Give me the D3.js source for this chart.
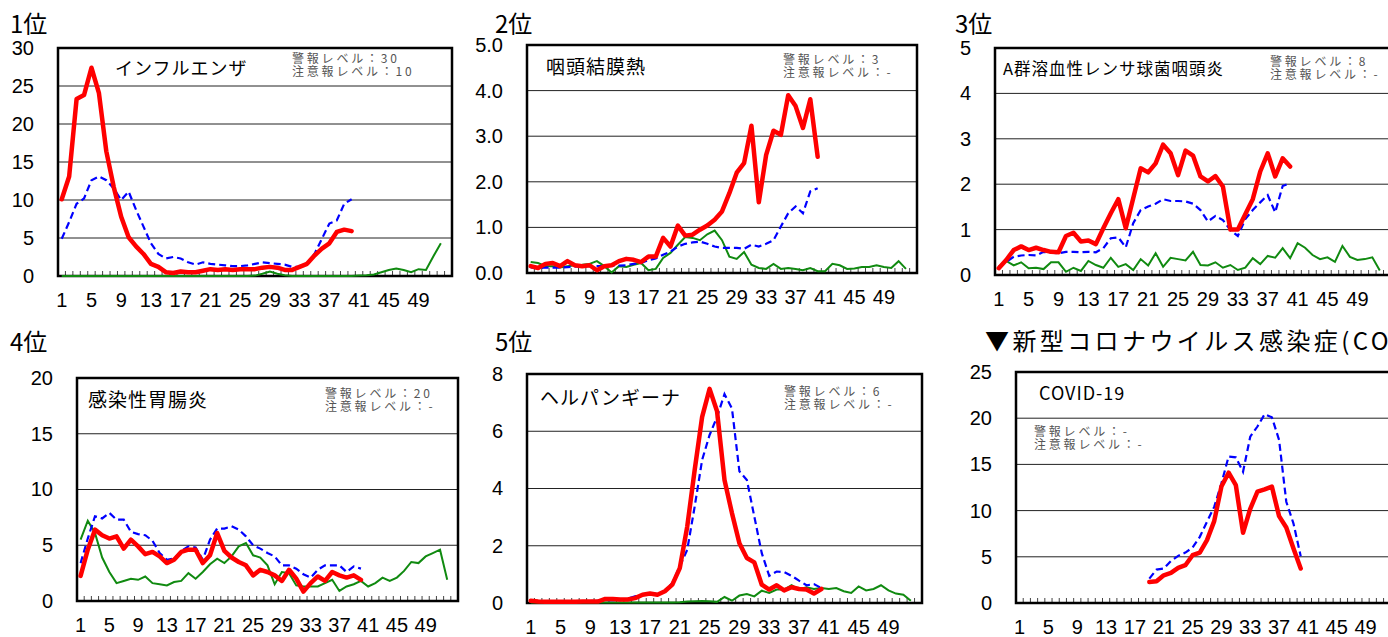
<!DOCTYPE html>
<html>
<head>
<meta charset="utf-8">
<script src="https://cdnjs.cloudflare.com/ajax/libs/d3/7.8.5/d3.min.js"></script>
<style>
  body { margin: 0; background: #fff; }
  svg { display: block; }
</style>
</head>
<body>
<svg width="1388" height="637"></svg>
<script>
// 週 (カテゴリ)
const weeks = [1,2,3,4,5,6,7,8,9,10,11,12,13,14,15,16,17,18,19,20,21,22,23,24,25,26,27,
               28,29,30,31,32,33,34,35,36,37,38,39,40,41,42,43,44,45,46,47,48,49,50,51,52,53];
const weekLabels = [1,5,9,13,17,21,25,29,33,37,41,45,49];

// インフルエンザ
const fluNow = [10.1,13.1,23.3,23.8,27.4,24.1,16.4,11.7,7.8,5.1,
                3.9,2.9,1.6,1.2,0.5,0.4,0.6,0.5,0.5,0.7,
                0.9,0.8,0.9,0.8,0.9,0.9,0.9,1.1,1.2,1.1,
                0.8,0.8,1.2,1.6,2.7,3.6,4.3,5.8,6.1,5.9];
const fluPrev = [4.9,7.1,9.5,10.2,12.6,13.1,12.6,11.5,10.0,11.1,
                 8.7,6.5,4.3,2.9,2.3,2.5,2.3,1.8,1.5,1.8,
                 1.6,1.5,1.4,1.3,1.3,1.4,1.6,1.8,1.7,1.6,
                 1.5,1.2,1.2,1.6,2.9,4.9,6.9,7.3,9.5,10.1];
const fluLast = [0,0,0,0,0,0,0,0,0,0,
                 0,0,0,0,0,0,0,0,0,0,
                 0,0,0,0,0,0,0.05,0.3,0.6,0.3,
                 0.1,0,0,0,0,0,0,0,0,0,
                 0.05,0.1,0.2,0.5,0.8,1.0,0.8,0.5,0.9,0.8,
                 2.6,4.3];

// 咽頭結膜熱
const pcfNow = [0.15,0.11,0.2,0.22,0.15,0.26,0.17,0.15,0.17,0.06,
                0.15,0.17,0.26,0.31,0.29,0.24,0.36,0.36,0.77,0.58,
                1.04,0.82,0.84,0.95,1.04,1.17,1.35,1.75,2.2,2.41,
                3.23,1.55,2.59,3.12,3.03,3.9,3.66,3.18,3.81,2.55];
const pcfPrev = [0.12,0.1,0.12,0.12,0.12,0.13,0.14,0.15,0.15,0.15,
                 0.15,0.16,0.16,0.17,0.2,0.22,0.28,0.32,0.4,0.47,
                 0.58,0.64,0.67,0.69,0.64,0.58,0.55,0.55,0.55,0.53,
                 0.62,0.58,0.64,0.72,1.02,1.31,1.46,1.31,1.79,1.86];
const pcfLast = [0.24,0.22,0.15,0.15,0.12,0.15,0.17,0.18,0.2,0.26,
                 0.15,0.01,0.15,0.13,0.18,0.22,0.06,0.09,0.33,0.44,
                 0.62,0.79,0.77,0.72,0.85,0.93,0.72,0.36,0.31,0.46,
                 0.18,0.11,0.09,0.2,0.09,0.11,0.09,0.06,0.11,0.04,
                 0.04,0.2,0.17,0.09,0.1,0.13,0.13,0.17,0.13,0.11,
                 0.26,0.09];

// A群溶血性レンサ球菌咽頭炎
const gasNow = [0.15,0.33,0.55,0.63,0.55,0.6,0.55,0.51,0.5,0.86,
                0.93,0.74,0.76,0.68,1.03,1.36,1.67,1.03,1.69,2.35,
                2.26,2.46,2.87,2.68,2.2,2.74,2.63,2.17,2.06,2.18,
                1.95,1.0,1.0,1.34,1.67,2.28,2.68,2.17,2.57,2.39];
const gasPrev = [0.18,0.29,0.4,0.43,0.44,0.43,0.51,0.49,0.48,0.51,
                 0.51,0.5,0.51,0.5,0.59,0.81,0.83,0.61,1.14,1.43,
                 1.51,1.57,1.67,1.63,1.63,1.62,1.57,1.43,1.18,1.3,
                 1.21,0.99,0.86,1.23,1.43,1.6,1.76,1.38,1.96,2.02];
const gasLast = [0.18,0.31,0.21,0.28,0.15,0.16,0.13,0.28,0.28,0.07,
                 0.16,0.09,0.31,0.22,0.16,0.38,0.18,0.24,0.11,0.35,
                 0.21,0.48,0.18,0.38,0.35,0.32,0.51,0.22,0.21,0.28,
                 0.16,0.22,0.11,0.16,0.37,0.24,0.42,0.38,0.59,0.37,
                 0.7,0.6,0.44,0.35,0.39,0.29,0.64,0.4,0.33,0.35,
                 0.39,0.1];

// 感染性胃腸炎
const gastroNow = [2.25,4.6,6.4,5.9,5.6,5.8,4.7,5.5,4.9,4.2,
                   4.4,4.0,3.4,3.7,4.4,4.6,4.6,3.4,4.1,6.1,
                   4.5,3.9,3.5,3.2,2.3,2.8,2.6,2.3,1.8,2.8,
                   2.0,0.84,1.6,2.2,1.8,2.6,2.3,2.1,2.3,1.9];
const gastroPrev = [3.4,5.6,7.6,7.4,7.9,7.3,7.3,6.2,6.0,5.9,
                    5.4,4.3,3.7,3.8,4.5,4.9,4.8,3.7,5.5,6.5,
                    6.5,6.7,6.4,5.8,5.0,4.7,4.3,4.0,3.2,3.2,
                    2.9,2.4,2.1,2.8,3.2,3.2,3.2,2.6,3.1,2.9];
const gastroLast = [5.5,7.2,6.1,3.9,2.6,1.6,1.8,2.0,1.9,2.2,
                    1.6,1.5,1.4,1.7,1.8,2.5,2.0,2.6,3.3,3.8,
                    3.4,4.0,4.9,5.2,4.1,3.9,3.2,1.5,2.6,2.5,
                    1.4,1.3,1.3,1.3,1.6,1.9,0.9,1.3,1.5,1.8,
                    1.3,1.6,2.1,1.8,2.1,2.7,3.5,3.4,4.0,4.3,
                    4.6,1.9];

// ヘルパンギーナ
const herpNow = [0.08,0.05,0.04,0.04,0.04,0.04,0.04,0.05,0.05,0.05,
                 0.14,0.14,0.12,0.12,0.17,0.29,0.33,0.29,0.41,0.64,
                 1.22,2.67,4.65,6.5,7.48,6.7,4.3,3.14,2.09,1.57,
                 1.42,0.64,0.47,0.62,0.44,0.55,0.49,0.47,0.33,0.49];
const herpPrev = [0.05,0.05,0.05,0.05,0.05,0.05,0.06,0.07,0.07,0.08,
                  0.1,0.1,0.1,0.15,0.23,0.29,0.35,0.31,0.41,0.7,
                  1.28,1.86,3.37,5.0,5.87,6.5,7.3,6.8,4.6,4.3,
                  3.02,1.74,0.95,1.1,1.08,0.95,0.78,0.62,0.66,0.52];
const herpLast = [0.02,0.02,0.02,0.02,0.02,0.02,0.02,0.02,0.02,0.02,
                  0.02,0.02,0.02,0.02,0.02,0.02,0.02,0.02,0.02,0.02,
                  0.03,0.05,0.06,0.07,0.06,0.04,0.21,0.08,0.26,0.31,
                  0.23,0.43,0.35,0.47,0.47,0.62,0.47,0.55,0.49,0.52,
                  0.49,0.52,0.41,0.35,0.58,0.44,0.49,0.62,0.44,0.33,
                  0.29,0.08];

// COVID-19 (第19週から)
const covidNow = [null,null,null,null,null,null,null,null,null,null,
                  null,null,null,null,null,null,null,null,
                  2.28,2.35,3.0,3.26,3.8,4.09,5.17,5.46,6.8,8.86,
                  12.6,14.1,12.76,7.6,10.2,12.05,12.3,12.6,9.4,8.18,
                  5.9,3.73];
const covidPrev = [null,null,null,null,null,null,null,null,null,null,
                   null,null,null,null,null,null,null,null,
                   2.64,3.62,3.73,4.56,5.1,5.46,6.0,7.16,8.8,10.4,
                   12.95,15.85,15.77,14.2,18.0,19.1,20.44,20.1,17.65,10.96,
                   8.6,5.07];

const numFont = "'Liberation Sans Narrow', 'Liberation Sans', Arial, sans-serif";
const jpFont = "'Noto Sans CJK JP', 'Noto Sans', sans-serif";

const panels = [
  {head: "1位", name: "インフルエンザ", warn: "30", caution: "10", ymax: 30, ticks: 6, fmt: "d",
   now: fluNow, prev: fluPrev, last: fluLast,
   left: 58, right: 452, top: 48, bottom: 276, headX: 10, headY: 33, headSpacing: 0,
   nameX: 115, nameY: 75, nameSize: 18, lvX: 292, lvY: 63},
  {head: "2位", name: "咽頭結膜熱", warn: "3", caution: "-", ymax: 5, ticks: 5, fmt: ".1f",
   now: pcfNow, prev: pcfPrev, last: pcfLast,
   left: 527, right: 917, top: 45, bottom: 273, headX: 495, headY: 33, headSpacing: 0,
   nameX: 546, nameY: 74, nameSize: 19, lvX: 783, lvY: 64},
  {head: "3位", name: "A群溶血性レンサ球菌咽頭炎", warn: "8", caution: "-", ymax: 5, ticks: 5, fmt: "d",
   now: gasNow, prev: gasPrev, last: gasLast,
   left: 995, right: 1391, top: 48, bottom: 275, headX: 955, headY: 33, headSpacing: 0,
   nameX: 1003, nameY: 75, nameSize: 16.5, lvX: 1270, lvY: 66},
  {head: "4位", name: "感染性胃腸炎", warn: "20", caution: "-", ymax: 20, ticks: 4, fmt: "d",
   now: gastroNow, prev: gastroPrev, last: gastroLast,
   left: 77, right: 458, top: 378, bottom: 601, headX: 10, headY: 351, headSpacing: 0,
   nameX: 88, nameY: 407, nameSize: 19, lvX: 325, lvY: 398},
  {head: "5位", name: "ヘルパンギーナ", warn: "6", caution: "-", ymax: 8, ticks: 4, fmt: "d",
   now: herpNow, prev: herpPrev, last: herpLast,
   left: 527, right: 922, top: 374, bottom: 603, headX: 495, headY: 351, headSpacing: 0,
   nameX: 540, nameY: 405, nameSize: 19, lvX: 784, lvY: 396},
  {head: "▼新型コロナウイルス感染症(COVID-19)", name: "COVID-19", warn: "-", caution: "-", ymax: 25, ticks: 5, fmt: "d",
   now: covidNow, prev: covidPrev, last: null,
   left: 1016, right: 1398, top: 372, bottom: 603, headX: 985, headY: 350, headSpacing: 3.4,
   nameX: 1039, nameY: 400, nameSize: 18, lvX: 1034, lvY: 436}
];

const svg = d3.select("svg");

function drawPanel(p) {
  const g = svg.append("g");
  const x = d3.scaleBand().domain(weeks).range([p.left, p.right]);
  const y = d3.scaleLinear().domain([0, p.ymax]).range([p.bottom, p.top]);

  // 見出し
  g.append("text").attr("x", p.headX).attr("y", p.headY)
    .attr("font-family", jpFont).attr("font-size", 24)
    .attr("letter-spacing", p.headSpacing)
    .attr("fill", "#000").text(p.head);

  // グリッド
  g.selectAll(".grid").data(y.ticks(p.ticks).filter(v => v > 0 && v < p.ymax))
    .enter().append("line")
    .attr("x1", p.left).attr("x2", p.right)
    .attr("y1", d => y(d)).attr("y2", d => y(d))
    .attr("stroke", "#222").attr("stroke-width", 1);

  // 週の目盛 (内側)
  g.selectAll(".wk").data(weeks.slice(1))
    .enter().append("line")
    .attr("x1", d => x(d)).attr("x2", d => x(d))
    .attr("y1", p.bottom).attr("y2", p.bottom - 5)
    .attr("stroke", "#444").attr("stroke-width", 1);

  // 枠
  g.append("rect").attr("x", p.left).attr("y", p.top)
    .attr("width", p.right - p.left).attr("height", p.bottom - p.top)
    .attr("fill", "none").attr("stroke", "#000").attr("stroke-width", 2.5);

  // Y軸
  const ya = g.append("g").attr("transform", `translate(${p.left},0)`)
    .call(d3.axisLeft(y).ticks(p.ticks).tickFormat(d3.format(p.fmt)).tickSize(0).tickPadding(24));
  ya.select(".domain").remove();
  ya.selectAll("text").attr("font-family", numFont).attr("font-size", 20).attr("fill", "#000");

  // X軸
  const xa = g.append("g").attr("transform", `translate(0,${p.bottom})`)
    .call(d3.axisBottom(x).tickValues(weekLabels).tickSize(0).tickPadding(17));
  xa.select(".domain").remove();
  xa.selectAll("text").attr("font-family", numFont).attr("font-size", 20).attr("fill", "#000");

  const line = d3.line()
    .defined(d => d != null)
    .x((d, i) => x(weeks[i]) + x.bandwidth() / 2)
    .y(d => y(d));

  if (p.last) {
    g.append("path").datum(p.last).attr("d", line)
      .attr("fill", "none").attr("stroke", "#108a10").attr("stroke-width", 2);
  }
  g.append("path").datum(p.prev).attr("d", line)
    .attr("fill", "none").attr("stroke", "#0000ff").attr("stroke-width", 2.2)
    .attr("stroke-dasharray", "7,4");
  g.append("path").datum(p.now).attr("d", line)
    .attr("fill", "none").attr("stroke", "#ff0000").attr("stroke-width", 4.5)
    .attr("stroke-linejoin", "round").attr("stroke-linecap", "round");

  // 疾患名
  g.append("text").attr("x", p.nameX).attr("y", p.nameY)
    .attr("font-family", jpFont).attr("font-size", p.nameSize)
    .attr("letter-spacing", 1).attr("fill", "#000").text(p.name);

  // 警報・注意報レベル (2行)
  const lv = g.append("text").attr("font-family", jpFont).attr("font-size", 12)
    .attr("fill", "#555").attr("letter-spacing", 2.8);
  lv.append("tspan").attr("x", p.lvX).attr("y", p.lvY).text("警報レベル：" + p.warn);
  lv.append("tspan").attr("x", p.lvX).attr("y", p.lvY + 12.5).text("注意報レベル：" + p.caution);
}

panels.forEach(drawPanel);
</script>
</body>
</html>
